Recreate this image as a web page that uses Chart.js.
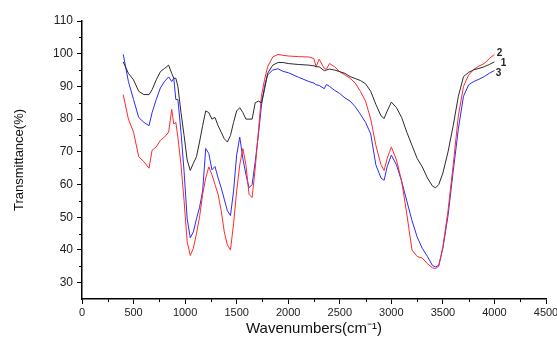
<!DOCTYPE html>
<html lang="en">
<head>
<meta charset="UTF-8">
<title>FTIR spectra</title>
<script src="https://cdn.jsdelivr.net/npm/chart.js"></script>
<style>
  html, body { margin: 0; padding: 0; background: #fff; overflow: hidden; }
  #wrap { width: 557px; height: 342px; overflow: hidden; }
</style>
</head>
<body>
<div id="wrap"><canvas id="ftir" width="585" height="342"></canvas></div>
<script>
// wavenumbers (cm-1) shared by the three spectra
const wavenumbers = [400, 450, 500, 550, 600, 650, 680, 720, 760, 800, 840, 870, 890, 910, 930, 960, 990, 1020, 1050, 1080,
  1110, 1140, 1170, 1200, 1230, 1260, 1290, 1320, 1350, 1380, 1410, 1440, 1470, 1500, 1530, 1560, 1590, 1620, 1650, 1680,
  1710, 1740, 1770, 1800, 1850, 1900, 1950, 2000, 2100, 2200, 2250, 2270, 2300, 2350, 2370, 2400, 2450, 2500, 2550, 2600,
  2650, 2700, 2750, 2800, 2850, 2900, 2930, 2960, 3000, 3050, 3100, 3150, 3200, 3250, 3300, 3350, 3400, 3430, 3460, 3500,
  3550, 3600, 3650, 3700, 3750, 3800, 3850, 3900, 3950, 4000];

// transmittance (%) of sample 1 (black)
const sample1 = [97.5, 94, 92, 88.5, 87.5, 87.5, 89, 92, 94.5, 95.5, 96.5, 94, 92.5, 92.5, 90, 82, 75, 67.5, 64.3, 66.5,
  68.5, 73, 78, 82.5, 82, 80, 80.5, 78, 76, 74, 73, 75, 79, 82.5, 83.5, 82, 80, 80, 80, 85,
  85.5, 85, 89, 94, 96.5, 97.3, 97.3, 97, 96.7, 96.5, 96.3, 96, 96, 94.8, 95, 95.3, 95, 94.5, 94, 93,
  92.4, 91.8, 90.8, 88.5, 84.5, 81, 80.2, 82.5, 85.2, 83.5, 80.5, 76, 72, 68, 65.4, 62, 59.5, 59, 60, 63.5,
  70, 78, 87, 93, 94.3, 95.1, 95.5, 96, 96.7, 97.5];

// transmittance (%) of sample 2 (red)
const sample2 = [87.5, 80, 76, 68.5, 67, 65, 70.5, 71.5, 73.5, 74.5, 76, 83, 78.5, 79, 74.5, 66, 55, 42.5, 38.3, 40.5,
  45, 50, 57, 62, 65.4, 63, 60, 57, 52, 45.5, 41.5, 40, 48, 58, 66, 71, 66, 57, 56, 65,
  76, 87, 92, 96, 99, 99.8, 99.5, 99.3, 99.1, 99, 98.5, 96, 98.3, 95.5, 95.2, 97, 96, 94.5, 93.5, 92.5,
  91, 88.5, 85.5, 80, 72, 66, 64.3, 68, 71.5, 67.5, 61, 51, 40, 38, 37.5, 35.8, 34.5, 34.3, 35, 41,
  52, 66, 81, 90, 93.5, 95.2, 96.2, 97, 98.5, 99.8];

// transmittance (%) of sample 3 (blue)
const sample3 = [99.8, 91.5, 86, 80.5, 79, 78, 82, 86, 89.5, 91.5, 92.9, 91.5, 92.5, 86, 86, 76, 64, 49.5, 43.7, 45.5,
  49.5, 53, 58, 71, 69.5, 64.5, 65.5, 62, 59, 55.5, 52, 50.5, 58, 69, 74.5, 68, 63, 59, 60, 67,
  75, 84, 90, 93.5, 95, 95.4, 94.6, 94.2, 92.8, 91.5, 91, 90.5, 90.3, 89.3, 90.6, 90, 88.8, 87.8, 86.5, 85.5,
  83.8, 81.5, 79, 75.5, 66, 62, 61.3, 65.5, 69, 66, 61, 55, 49, 44, 40.5, 38, 35.2, 34.8, 35.3, 40.5,
  50.5, 64, 77, 87, 90.5, 91.5, 92.2, 93, 94, 94.9];

const seriesNames = ['1', '2', '3'];
const xTicks = [0, 500, 1000, 1500, 2000, 2500, 3000, 3500, 4000, 4500];
const yTicks = [30, 40, 50, 60, 70, 80, 90, 100, 110];

const toPoints = vals => vals.map((v, i) => ({ x: wavenumbers[i], y: v }));

// small ticks between the labelled ones, and the curve numbers at the line ends
const extras = {
  id: 'extras',
  afterDraw(chart) {
    const ctx = chart.ctx;
    const xs = chart.scales.x, ys = chart.scales.y;
    ctx.save();
    ctx.strokeStyle = '#000';
    ctx.lineWidth = 1;
    ctx.beginPath();
    for (let v = 250; v < 4500; v += 500) {
      const px = Math.round(xs.getPixelForValue(v)) + 0.5;
      ctx.moveTo(px, ys.bottom);
      ctx.lineTo(px, ys.bottom + 3);
    }
    for (let v = 35; v < 110; v += 10) {
      const py = Math.round(ys.getPixelForValue(v)) + 0.5;
      ctx.moveTo(xs.left, py);
      ctx.lineTo(xs.left - 3, py);
    }
    ctx.stroke();

    const offs = { '1': [9, 1], '2': [5, -1], '3': [4, 3] };
    ctx.fillStyle = '#222';
    ctx.font = 'bold 10px "Liberation Sans", Arial, sans-serif';
    ctx.textAlign = 'center';
    ctx.textBaseline = 'middle';
    chart.data.datasets.forEach(ds => {
      const last = ds.data[ds.data.length - 1];
      const o = offs[ds.label];
      ctx.fillText(ds.label, xs.getPixelForValue(last.x) + o[0], ys.getPixelForValue(last.y) + o[1]);
    });
    ctx.restore();
  }
};

const ctx = document.getElementById('ftir').getContext('2d');
new Chart(ctx, {
  type: 'line',
  data: {
    datasets: [
      { label: seriesNames[0], data: toPoints(sample1), borderColor: '#2a2a2a' },
      { label: seriesNames[1], data: toPoints(sample2), borderColor: '#ff2a2a' },
      { label: seriesNames[2], data: toPoints(sample3), borderColor: '#2a2aff' }
    ]
  },
  options: {
    responsive: false,
    animation: false,
    layout: { padding: { left: 0, right: 39, top: 21, bottom: 0 } },
    elements: {
      line: { borderWidth: 1, tension: 0 },
      point: { radius: 0 }
    },
    plugins: {
      legend: { display: false },
      tooltip: { enabled: false }
    },
    scales: {
      x: {
        type: 'linear',
        min: 0,
        max: 4500,
        afterBuildTicks: s => { s.ticks = xTicks.map(v => ({ value: v })); },
        afterFit: s => { s.height = 43; },
        grid: { drawOnChartArea: false, drawTicks: true, tickLength: 5, color: '#000' },
        border: { display: true, color: '#000', width: 1.5 },
        ticks: {
          autoSkip: false, maxRotation: 0, padding: 2, color: '#222',
          callback: v => String(v),
          font: { family: '"Liberation Sans", Arial, sans-serif', size: 11 }
        },
        title: {
          display: true, text: 'Wavenumbers(cm\u207B\u00B9)', color: '#111',
          font: { family: '"Liberation Sans", Arial, sans-serif', size: 15 },
          padding: { top: 0, bottom: 4 }
        }
      },
      y: {
        min: 25,
        max: 110,
        afterBuildTicks: s => { s.ticks = yTicks.map(v => ({ value: v })); },
        afterFit: s => { s.width = 82; },
        grid: { drawOnChartArea: false, drawTicks: true, tickLength: 5, color: '#000' },
        border: { display: true, color: '#000', width: 1.5 },
        ticks: {
          padding: 4, color: '#222',
          callback: v => String(v),
          font: { family: '"Liberation Sans", Arial, sans-serif', size: 12 }
        },
        title: {
          display: true, text: 'Transmittance(%)', color: '#111',
          font: { family: '"Liberation Sans", Arial, sans-serif', size: 13 },
          padding: { top: 12, bottom: 0 }
        }
      }
    }
  },
  plugins: [extras]
});
</script>
</body>
</html>
